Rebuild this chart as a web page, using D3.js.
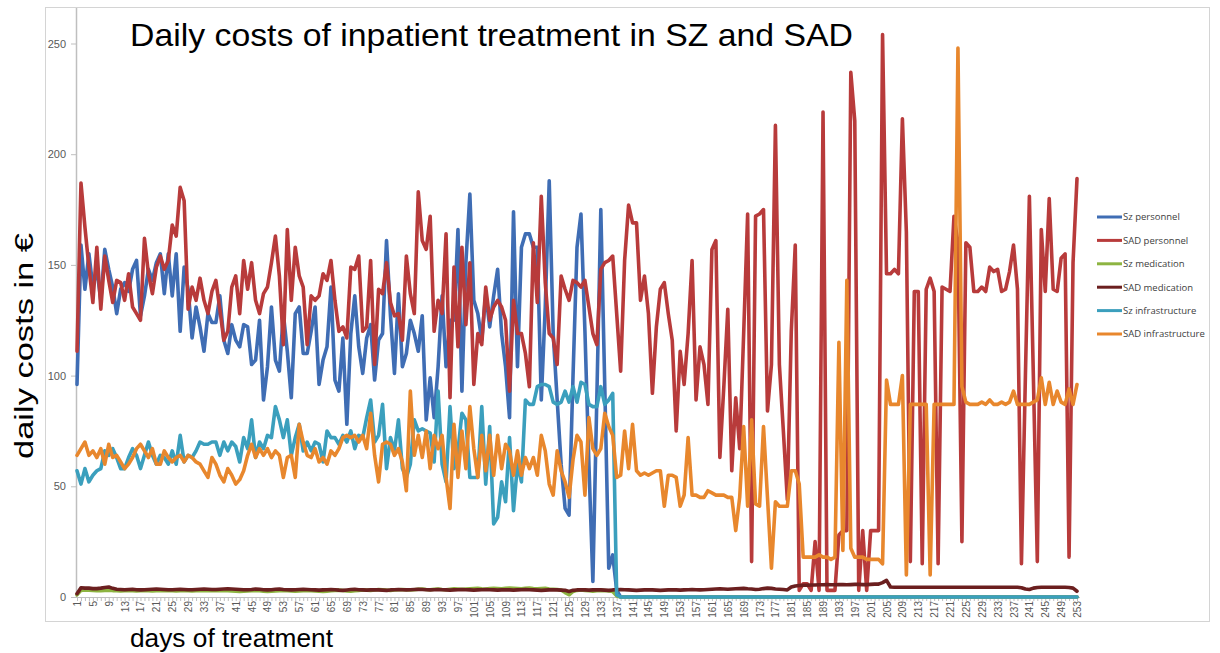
<!DOCTYPE html>
<html>
<head>
<meta charset="utf-8">
<script src="https://cdn.jsdelivr.net/npm/d3@7"></script>
<style>
  body { margin: 0; background: #fff; }
  svg { display: block; }
  .tick text { fill: #595959; }
</style>
</head>
<body>
<svg id="chart" width="1220" height="653"></svg>
<script>
// series names, in drawing order (later on top)
const seriesNames = ["Sz personnel", "SAD personnel", "Sz medication", "SAD medication", "Sz infrastructure", "SAD infrastructure"];
const seriesColors = ["#3f6db4", "#b83b3b", "#8db441", "#6b1f1f", "#3b9fbd", "#e8872d"];
const yTicks = [0, 50, 100, 150, 200, 250];

// Sz personnel, days 1..253
const szPersonnel = [
  96,159,139,155,140,148,134,157,148,140,128,139,142,138,148,152,127,136,148,143,
  151,155,137,155,136,155,120,149,139,117,131,122,111,128,124,124,136,116,110,123,
  116,113,123,122,105,107,125,89,104,131,107,102,128,111,90,128,131,110,110,120,
  131,96,107,113,140,98,93,117,78,119,136,113,101,117,123,98,116,119,161,127,
  101,137,104,110,125,119,111,127,80,99,81,104,136,104,125,125,166,93,151,182,
  134,128,116,137,122,136,148,119,104,81,174,104,158,164,164,158,158,89,131,188,
  119,89,60,40,37,100,158,173,120,60,7,90,175,95,13,19,3,0,0,0,
  0,0,0,0,0,0,0,0,0,0,0,0,0,0,0,0,0,0,0,0,
  0,0,0,0,0,0,0,0,0,0,0,0,0,0,0,0,0,0,0,0,
  0,0,0,0,0,0,0,0,0,0,0,0,0,0,0,0,0,0,0,0,
  0,0,0,0,0,0,0,0,0,0,0,0,0,0,0,0,0,0,0,0,
  0,0,0,0,0,0,0,0,0,0,0,0,0,0,0,0,0,0,0,0,
  0,0,0,0,0,0,0,0,0,0,0,0,0
];

// SAD personnel
const sadPersonnel = [
  111,187,167,149,133,158,130,154,143,133,143,142,134,146,131,128,125,162,146,137,
  149,154,148,152,168,163,185,179,130,140,134,144,134,128,138,143,130,116,120,140,
  145,128,152,139,151,134,128,137,140,151,163,145,114,166,134,158,145,140,114,136,
  134,136,146,143,152,134,120,122,117,149,148,154,120,122,152,105,139,137,151,133,
  127,128,116,154,137,128,183,161,157,172,120,134,128,164,90,149,113,158,123,151,
  96,119,114,140,125,131,134,131,125,93,134,119,119,110,95,160,133,181,142,119,
  117,105,145,139,134,143,142,140,143,131,119,114,148,151,152,154,128,102,152,177,
  169,169,134,145,128,92,122,139,142,128,116,75,111,96,119,152,89,113,105,87,
  157,161,63,95,130,57,90,67,119,173,16,172,173,175,84,105,213,105,75,44,
  120,159,3,6,6,3,25,3,219,3,3,3,28,30,30,237,215,3,30,3,
  30,30,30,254,146,146,148,146,216,165,16,138,138,15,139,144,138,15,140,139,
  138,172,160,25,160,158,138,138,140,138,149,147,148,138,139,147,159,139,15,100,
  181,100,16,166,138,180,139,138,153,155,18,151,189
];

// Sz medication
const szMedication = [
  1.0,3.0,3.2,3.1,3.0,2.9,2.9,3.0,3.1,2.9,2.8,2.7,2.8,2.9,2.8,2.7,2.8,2.9,2.8,2.7,
  2.8,2.9,3.0,2.9,2.8,2.7,2.8,2.9,2.8,2.7,2.8,2.9,3.0,2.9,2.8,2.9,3.0,2.9,2.8,2.7,
  2.6,2.5,2.6,2.7,2.8,2.9,2.8,2.6,2.5,2.6,2.7,2.8,2.9,2.8,2.7,2.6,2.7,2.8,2.9,2.8,
  2.7,2.6,2.5,2.6,2.8,3.0,3.1,2.9,2.7,2.6,2.8,3.0,3.2,3.1,3.0,3.2,3.4,3.3,3.1,3.0,
  3.2,3.3,3.4,3.3,3.2,3.3,3.5,3.6,3.4,3.3,3.5,3.6,3.4,3.3,3.5,3.7,3.6,3.5,3.6,3.7,
  3.8,3.9,3.7,3.6,3.8,3.9,3.8,3.7,3.9,4.0,3.9,3.8,3.7,3.9,4.0,3.8,3.7,3.8,3.9,3.6,
  3.5,3.4,3.2,2.0,1.0,2.5,3.0,3.2,3.0,2.8,2.6,2.8,3.0,2.9,2.7,2.5,0.5,0,0,0,
  0,0,0,0,0,0,0,0,0,0,0,0,0,0,0,0,0,0,0,0,
  0,0,0,0,0,0,0,0,0,0,0,0,0,0,0,0,0,0,0,0,
  0,0,0,0,0,0,0,0,0,0,0,0,0,0,0,0,0,0,0,0,
  0,0,0,0,0,0,0,0,0,0,0,0,0,0,0,0,0,0,0,0,
  0,0,0,0,0,0,0,0,0,0,0,0,0,0,0,0,0,0,0,0,
  0,0,0,0,0,0,0,0,0,0,0,0,0
];

// SAD medication
const sadMedication = [
  1.5,4.2,4.0,4.0,3.8,3.8,4.0,4.3,4.5,3.9,3.5,3.4,3.3,3.4,3.5,3.3,3.2,3.3,3.4,3.5,
  3.6,3.5,3.4,3.3,3.3,3.4,3.5,3.4,3.3,3.3,3.4,3.5,3.6,3.5,3.4,3.4,3.5,3.6,3.7,3.6,
  3.5,3.4,3.3,3.3,3.4,3.6,3.5,3.3,3.2,3.3,3.5,3.6,3.4,3.3,3.2,3.3,3.4,3.5,3.4,3.3,
  3.2,3.1,3.2,3.3,3.4,3.3,3.1,3.0,3.2,3.4,3.5,3.3,3.2,3.1,3.2,3.3,3.2,3.1,3.0,3.2,
  3.3,3.4,3.3,3.2,3.3,3.4,3.5,3.4,3.3,3.2,3.3,3.4,3.3,3.2,3.1,3.2,3.3,3.4,3.3,3.2,
  3.1,3.2,3.3,3.4,3.3,3.2,3.1,3.2,3.3,3.2,3.1,3.2,3.3,3.4,3.3,3.2,3.1,3.0,3.1,3.2,
  3.3,3.2,3.1,3.0,2.5,3.0,3.2,3.3,3.2,3.1,3.2,3.3,3.2,3.1,3.0,3.2,3.3,3.4,3.3,3.2,
  3.1,3.0,3.1,3.2,3.3,3.2,3.1,3.0,3.1,3.2,3.3,3.2,3.1,3.2,3.3,3.4,3.3,3.2,3.3,3.4,
  3.5,3.6,3.7,3.6,3.5,3.6,3.7,3.8,3.9,3.7,3.6,3.4,3.5,3.8,4.0,3.9,3.6,3.5,3.4,3.2,
  4.5,5.0,5.2,5.3,5.3,5.4,5.4,5.5,5.5,5.6,5.5,5.5,5.6,5.6,5.5,5.6,5.7,5.7,5.6,5.6,
  5.7,5.8,5.8,6.5,7.5,4.5,4.4,4.4,4.4,4.4,4.4,4.4,4.4,4.4,4.4,4.4,4.4,4.4,4.4,4.4,
  4.4,4.4,4.4,4.4,4.4,4.4,4.4,4.4,4.4,4.4,4.4,4.4,4.4,4.4,4.4,4.4,4.4,4.4,4.2,3.6,
  3.4,4.0,4.3,4.4,4.4,4.4,4.4,4.4,4.4,4.4,4.3,4.0,2.6
];

// Sz infrastructure
const szInfrastructure = [
  57,51,58,52,55,57,58,66,64,67,63,58,58,63,67,64,58,64,70,64,
  60,64,63,60,66,60,73,61,64,63,66,70,69,69,70,70,64,70,66,70,
  68,61,72,67,80,63,70,67,73,72,86,80,72,80,64,72,78,66,70,66,
  70,69,61,75,72,72,69,73,70,75,67,73,72,81,89,70,73,87,58,72,
  66,80,58,54,60,80,75,76,75,74,61,93,60,52,86,58,66,83,80,54,
  54,54,86,51,77,33,36,52,43,72,39,60,52,89,87,87,95,96,96,95,
  88,87,88,93,88,95,88,97,96,87,86,86,95,87,89,92,1,0,0,0,
  0,0,0,0,0,0,0,0,0,0,0,0,0,0,0,0,0,0,0,0,
  0,0,0,0,0,0,0,0,0,0,0,0,0,0,0,0,0,0,0,0,
  0,0,0,0,0,0,0,0,0,0,0,0,0,0,0,0,0,0,0,0,
  0,0,0,0,0,0,0,0,0,0,0,0,0,0,0,0,0,0,0,0,
  0,0,0,0,0,0,0,0,0,0,0,0,0,0,0,0,0,0,0,0,
  0,0,0,0,0,0,0,0,0,0,0,0,0
];

// SAD infrastructure
const sadInfrastructure = [
  64,67,70,64,66,63,67,60,69,63,64,61,58,60,63,67,69,66,63,67,
  60,60,66,63,61,63,64,61,64,63,61,60,57,54,63,60,55,52,58,55,
  51,53,57,64,69,63,67,64,67,63,66,64,54,63,64,54,78,70,64,63,
  67,61,63,60,66,64,67,72,73,72,73,70,73,67,83,64,52,69,70,69,
  64,67,61,48,93,64,73,63,75,58,73,67,73,54,40,78,54,75,58,86,
  67,54,73,57,73,55,73,58,69,66,55,66,55,63,58,63,55,73,66,51,
  46,66,57,52,45,62,73,70,46,81,67,64,67,83,77,73,54,55,75,58,
  78,57,55,56,55,56,57,57,41,55,55,54,41,46,72,46,46,45,45,48,
  47,46,46,46,45,45,30,45,77,41,80,42,41,77,45,13,43,41,41,41,
  57,57,51,18,18,18,18,19,18,18,17,18,115,21,143,22,18,18,18,17,
  17,17,17,15,98,87,87,87,100,10,87,87,87,87,87,10,87,87,87,87,
  87,87,248,95,88,87,87,87,88,87,89,87,87,88,87,88,93,87,87,87,
  87,88,89,99,87,97,87,93,88,87,94,87,96
];

const allSeries = [szPersonnel, sadPersonnel, szMedication, sadMedication, szInfrastructure, sadInfrastructure];
const days = szPersonnel.map((d, i) => i + 1);

const svg = d3.select("#chart");

// outer chart border
svg.append("rect")
    .attr("x", 45.5).attr("y", 7.5)
    .attr("width", 1164).attr("height", 614)
    .attr("fill", "none")
    .attr("stroke", "#d4d4d4");

const x = d3.scalePoint().domain(days).range([77, 1077]);
const y = d3.scaleLinear().domain([0, 250]).range([597, 43.5]);

// y axis
const yAxis = svg.append("g")
    .attr("transform", "translate(76,0)")
    .call(d3.axisLeft(y).tickValues(yTicks).tickSize(5).tickPadding(5));
yAxis.select(".domain").remove();
yAxis.selectAll(".tick line").attr("stroke", "#bfbfbf");
yAxis.selectAll(".tick text")
    .style("font-family", "'Liberation Sans', Arial, sans-serif")
    .style("font-size", "11px");
svg.append("line")
    .attr("x1", 76.5).attr("x2", 76.5)
    .attr("y1", 8).attr("y2", 597)
    .attr("stroke", "#bfbfbf").attr("stroke-width", 1.5);

// x axis: a tick for every day, a label for every 4th
const xAxis = svg.append("g")
    .attr("transform", "translate(0,597)")
    .call(d3.axisBottom(x)
        .tickValues(days)
        .tickSize(4)
        .tickFormat(d => (d - 1) % 4 === 0 ? d : ""));
xAxis.select(".domain").attr("stroke", "#bfbfbf").attr("d", "M76,0.5H1080");
xAxis.selectAll(".tick line").attr("stroke", "#bfbfbf");
xAxis.selectAll(".tick text")
    .style("font-family", "'Liberation Sans', Arial, sans-serif")
    .style("font-size", "10px")
    .attr("text-anchor", "end")
    .attr("transform", "translate(0,4) rotate(-90)")
    .attr("x", 0).attr("y", 0).attr("dy", "0.35em");

// lines
const line = d3.line()
    .x((d, i) => x(days[i]))
    .y(d => y(d));

svg.append("g")
    .selectAll("path")
    .data(allSeries)
    .join("path")
    .attr("d", line)
    .attr("fill", "none")
    .attr("stroke", (d, i) => seriesColors[i])
    .attr("stroke-width", 3.6)
    .attr("stroke-linejoin", "round")
    .attr("stroke-linecap", "round");

// legend
const legend = svg.append("g")
    .selectAll("g")
    .data(seriesNames)
    .join("g")
    .attr("transform", (d, i) => `translate(1097,${217 + i * 23.4})`);
legend.append("line")
    .attr("x1", 0).attr("x2", 25)
    .attr("stroke", (d, i) => seriesColors[i])
    .attr("stroke-width", 3);
legend.append("text")
    .attr("x", 26).attr("dy", "0.35em")
    .style("font-family", "'Open Sans', sans-serif")
    .style("font-size", "9.5px")
    .attr("fill", "#404040")
    .text(d => d);

// titles
svg.append("text")
    .attr("x", 130).attr("y", 46)
    .attr("textLength", 723)
    .attr("lengthAdjust", "spacingAndGlyphs")
    .style("font-family", "'Liberation Sans', Arial, sans-serif")
    .style("font-size", "32px")
    .attr("fill", "#000")
    .text("Daily costs of inpatient treatment in SZ and SAD");

svg.append("text")
    .attr("transform", "translate(33,346) rotate(-90)")
    .attr("text-anchor", "middle")
    .attr("textLength", 226)
    .attr("lengthAdjust", "spacingAndGlyphs")
    .style("font-family", "'Liberation Sans', Arial, sans-serif")
    .style("font-size", "25px")
    .text("daily costs in €");

svg.append("text")
    .attr("x", 130).attr("y", 647)
    .attr("textLength", 203)
    .attr("lengthAdjust", "spacingAndGlyphs")
    .style("font-family", "'Liberation Sans', Arial, sans-serif")
    .style("font-size", "25px")
    .text("days of treatment");
</script>
</body>
</html>
